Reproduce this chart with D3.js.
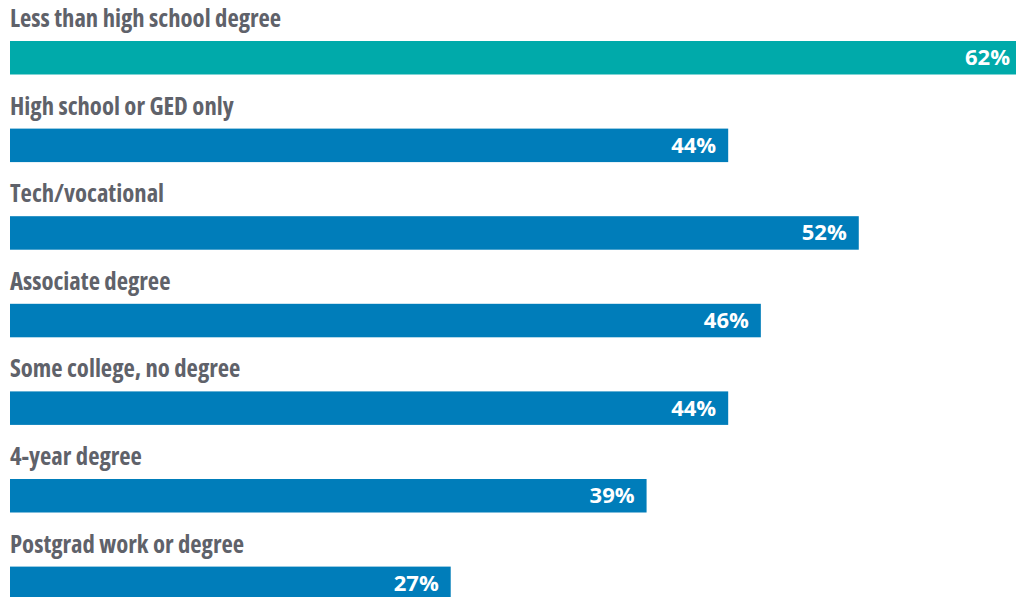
<!DOCTYPE html>
<html>
<head>
<meta charset="utf-8">
<script src="https://cdn.jsdelivr.net/npm/d3@7"></script>
<style>
  html, body { margin: 0; padding: 0; background: #fff; overflow: hidden; }
  svg { display: block; }
  .cat { font-family: "Open Sans", "DejaVu Sans Condensed", sans-serif; font-stretch: 75%; font-weight: 700; font-size: 24.7px; fill: #5f626a; }
  .val { font-family: "Open Sans", sans-serif; font-weight: 700; font-size: 22px; fill: #ffffff; }
</style>
</head>
<body>
<svg id="chart" width="1016" height="597"></svg>
<script>
const categories = [
  "Less than high school degree",
  "High school or GED only",
  "Tech/vocational",
  "Associate degree",
  "Some college, no degree",
  "4-year degree",
  "Postgrad work or degree"
];
const values = [62, 44, 52, 46, 44, 39, 27];
const highlight = [true, false, false, false, false, false, false];

const svg = d3.select("#chart");
const x = d3.scaleLinear().domain([0, 62]).range([10, 1022]);
const y = d3.scaleBand()
  .domain(categories)
  .range([41, 41 + 6 * 87.6 + 33.5])
  .paddingInner(0.6176)
  .paddingOuter(0);

const data = categories.map((c, i) => ({ c, v: values[i], h: highlight[i] }));

const g = svg.selectAll("g.row").data(data).enter().append("g").attr("class", "row");

g.append("rect")
  .attr("x", x(0))
  .attr("y", d => y(d.c))
  .attr("width", d => x(d.v) - x(0))
  .attr("height", y.bandwidth())
  .attr("fill", d => d.h ? "#00aaaa" : "#007dba");

g.append("text")
  .attr("class", "cat")
  .attr("x", x(0))
  .attr("y", d => y(d.c) - 14)
  .text(d => d.c);

g.append("text")
  .attr("class", "val")
  .attr("x", d => x(d.v) - 12)
  .attr("y", d => y(d.c) + y.bandwidth() / 2)
  .attr("dy", "0.34em")
  .attr("text-anchor", "end")
  .text(d => d.v + "%");
</script>
</body>
</html>
